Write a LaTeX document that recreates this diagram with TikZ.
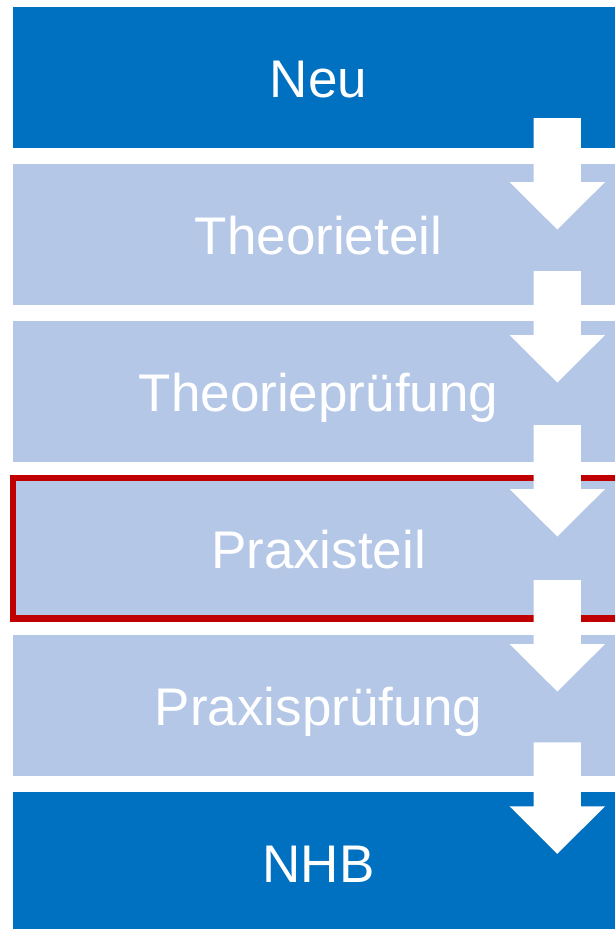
\documentclass[tikz,border=0pt]{standalone}
\usepackage{fontspec}
\setmainfont{Liberation Sans}
\definecolor{dkblue}{HTML}{0070C0}
\definecolor{ltblue}{HTML}{B4C7E7}
\definecolor{hired}{HTML}{C00000}
\begin{document}
\begin{tikzpicture}[x=1pt,y=-1pt,
  stage/.style={rectangle, inner sep=0pt, outer sep=0pt,
    minimum width=611pt, minimum height=140.7pt, anchor=north west,
    text=white, font=\fontsize{53}{60}\selectfont,
    text height=40pt, text depth=0pt},
  dark/.style={stage, fill=dkblue},
  light/.style={stage, fill=ltblue},
  focus/.style={draw=hired, line width=6.5pt},
  flowarrow/.pic={\fill[white] (-23.65,0) -- (23.65,0) -- (23.65,64) -- (47.75,64)
     -- (0,111.5) -- (-47.75,64) -- (-23.65,64) -- cycle;}]
\useasboundingbox (0,0) rectangle (615,929);
\clip (0,0) rectangle (615,929);
\node[dark]  (b1) at (13,7)   {Neu};
\node[light] (b2) at (13,164) {Theorieteil};
\node[light] (b3) at (13,321) {Theorieprüfung};
\node[light] (b4) at (13,478) {Praxisteil};
\node[light] (b5) at (13,635) {Praxisprüfung};
\node[dark]  (b6) at (13,792) {NHB};
\draw[focus] (b4.north west) rectangle (b4.south east);
\pic (ar1) at (557.3,118)   {flowarrow};
\pic (ar2) at (557.3,271)   {flowarrow};
\pic (ar3) at (557.3,425)   {flowarrow};
\pic (ar4) at (557.3,580)   {flowarrow};
\pic (ar5) at (557.3,742.3) {flowarrow};
\end{tikzpicture}
\end{document}
